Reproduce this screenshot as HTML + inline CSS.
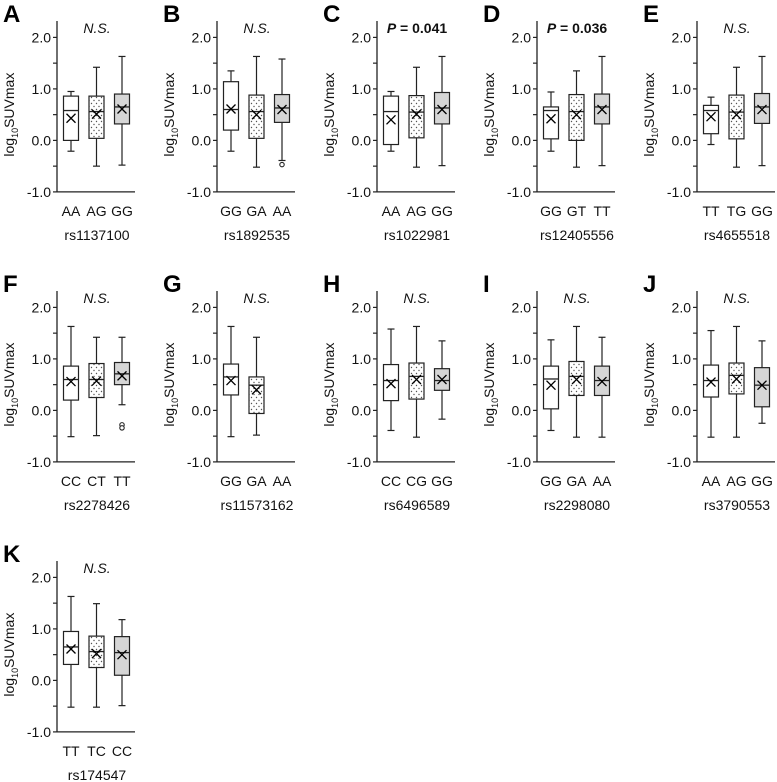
<!DOCTYPE html>
<html><head><meta charset="utf-8">
<style>
html,body{margin:0;padding:0;background:#fff;}
svg{display:block;font-family:"Liberation Sans",Arial,sans-serif;}
</style></head>
<body>
<svg id="fig" width="777" height="782" viewBox="0 0 777 782" xmlns="http://www.w3.org/2000/svg">
<defs>
<pattern id="dots" width="5" height="6" patternUnits="userSpaceOnUse">
<rect width="5" height="6" fill="#fff"/>
<circle cx="1.5" cy="1.5" r="0.7" fill="#555"/>
<circle cx="4" cy="4.5" r="0.7" fill="#555"/>
</pattern>
</defs>
</svg>
<script>
const panelLetters = ["A","B","C","D","E","F","G","H","I","J","K"];
const rsIds = ["rs1137100","rs1892535","rs1022981","rs12405556","rs4655518","rs2278426","rs11573162","rs6496589","rs2298080","rs3790553","rs174547"];
const genotypes = [["AA","AG","GG"],["GG","GA","AA"],["AA","AG","GG"],["GG","GT","TT"],["TT","TG","GG"],["CC","CT","TT"],["GG","GA","AA"],["CC","CG","GG"],["GG","GA","AA"],["AA","AG","GG"],["TT","TC","CC"]];
const pLabels = ["N.S.","N.S.","P = 0.041","P = 0.036","N.S.","N.S.","N.S.","N.S.","N.S.","N.S.","N.S."];
const whiskLo = [[-0.21,-0.50,-0.48],[-0.21,-0.52,-0.39],[-0.21,-0.52,-0.49],[-0.21,-0.52,-0.49],[-0.08,-0.52,-0.49],[-0.51,-0.49,0.11],[-0.51,-0.48,null],[-0.39,-0.52,-0.17],[-0.39,-0.52,-0.52],[-0.52,-0.52,-0.25],[-0.52,-0.52,-0.49]];
const q1 = [[0.00,0.04,0.32],[0.20,0.04,0.35],[-0.08,0.05,0.32],[0.03,0.00,0.32],[0.13,0.03,0.33],[0.20,0.25,0.50],[0.30,-0.06,null],[0.19,0.22,0.39],[0.03,0.29,0.29],[0.26,0.32,0.07],[0.31,0.25,0.10]];
const medians = [[0.58,0.56,0.65],[0.60,0.56,0.63],[0.56,0.55,0.63],[0.58,0.56,0.65],[0.58,0.55,0.65],[0.60,0.60,0.71],[0.65,0.49,null],[0.58,0.66,0.58],[0.61,0.66,0.58],[0.58,0.68,0.49],[0.65,0.56,0.54]];
const q3 = [[0.86,0.86,0.90],[1.14,0.88,0.89],[0.86,0.87,0.93],[0.65,0.89,0.90],[0.68,0.88,0.91],[0.86,0.91,0.93],[0.90,0.65,null],[0.89,0.92,0.81],[0.86,0.95,0.86],[0.88,0.92,0.83],[0.95,0.86,0.85]];
const whiskHi = [[0.95,1.42,1.63],[1.35,1.63,1.58],[0.95,1.42,1.63],[0.94,1.35,1.63],[0.84,1.42,1.63],[1.63,1.42,1.42],[1.63,1.42,null],[1.58,1.63,1.35],[1.37,1.63,1.42],[1.55,1.63,1.35],[1.63,1.49,1.18]];
const means = [[0.43,0.51,0.61],[0.61,0.50,0.60],[0.40,0.51,0.60],[0.42,0.50,0.60],[0.46,0.50,0.60],[0.56,0.57,0.67],[0.58,0.40,null],[0.52,0.60,0.60],[0.49,0.60,0.56],[0.55,0.61,0.49],[0.61,0.52,0.50]];
const outliers = [[[],[],[]],[[],[],[-0.47]],[[],[],[]],[[],[],[]],[[],[],[]],[[],[],[-0.28,-0.34]],[[],[],[]],[[],[],[]],[[],[],[]],[[],[],[]],[[],[],[]]];
const yTicks = [-1.0,-0.5,0.0,0.5,1.0,1.5,2.0];
const yTickLabels = ["-1.0","","0.0","","1.0","","2.0"];

const svg = document.getElementById('fig');
const NS = "http://www.w3.org/2000/svg";
function mk(tag, attrs, parent){
  const e = document.createElementNS(NS, tag);
  for (const k in attrs) e.setAttribute(k, attrs[k]);
  (parent||svg).appendChild(e);
  return e;
}
const fills = ["#fff","url(#dots)","#d6d6d6"];
const stroke = "#222";
panelLetters.forEach((L, p) => {
  const col = p % 5, row = Math.floor(p / 5);
  const x0 = 57 + 160 * col;
  const oy = 270 * row;
  const yScale = v => oy + 140.4 - 51.5 * v;
  const xPos = i => x0 + 14 + 25.5 * i;
  const g = mk('g', {});
  
  

  const letter = mk('text', {x: x0 - 54, y: oy + 22, 'font-size': 24, 'font-weight': 'bold', fill: '#000'}, g);
  letter.textContent = L;
  
  

  const yaxis = mk('line', {x1: x0, x2: x0, y1: oy + 21, y2: yScale(-1), stroke: stroke, 'stroke-width': 1.3}, g);
  
  
  const xaxis = mk('line', {x1: x0, x2: x0 + 78, y1: yScale(-1), y2: yScale(-1), stroke: stroke, 'stroke-width': 1.3}, g);
  
  

  yTicks.forEach((t, i) => {
    const tk = mk('line', {x1: x0 - 4, x2: x0, y1: yScale(t), y2: yScale(t), stroke: stroke, 'stroke-width': 1.2}, g);
    
    
    if (yTickLabels[i]) {
      const tl = mk('text', {x: x0 - 6, y: yScale(t) + 5, 'font-size': 14, 'text-anchor': 'end', fill: '#111'}, g);
      tl.textContent = yTickLabels[i];
      
      
    }
  });

  const cy = yScale(0.5);
  const yt = mk('text', {x: 0, y: 0, 'font-size': 14, 'text-anchor': 'middle', fill: '#111', transform: `translate(${x0 - 43},${cy}) rotate(-90)`}, g);
  yt.innerHTML = 'log<tspan font-size="9" dy="4">10</tspan><tspan dy="-4">SUVmax</tspan>';
  
  

  const isP = pLabels[p].startsWith('P');
  const pl = mk('text', {x: x0 + 40, y: oy + 33, 'font-size': 14, 'text-anchor': 'middle', fill: '#111', 'font-style': isP ? 'normal' : 'italic', 'font-weight': isP ? 'bold' : 'normal'}, g);
  if (isP) pl.innerHTML = '<tspan font-style="italic">P</tspan>' + pLabels[p].slice(1);
  else pl.textContent = pLabels[p];
  
  

  genotypes[p].forEach((gt, i) => {
    const cx = xPos(i);
    const lab = mk('text', {x: cx, y: oy + 216, 'font-size': 14, 'text-anchor': 'middle', fill: '#111'}, g);
    lab.textContent = gt;
    
    
    if (medians[p][i] === null) return;
    const bg = mk('g', {}, g);
    
    
    const w = 15, cw = 7;
    mk('line', {x1: cx, x2: cx, y1: yScale(whiskHi[p][i]), y2: yScale(q3[p][i]), stroke: stroke, 'stroke-width': 1.2}, bg);
    mk('line', {x1: cx, x2: cx, y1: yScale(q1[p][i]), y2: yScale(whiskLo[p][i]), stroke: stroke, 'stroke-width': 1.2}, bg);
    mk('line', {x1: cx - cw/2, x2: cx + cw/2, y1: yScale(whiskHi[p][i]), y2: yScale(whiskHi[p][i]), stroke: stroke, 'stroke-width': 1.2}, bg);
    mk('line', {x1: cx - cw/2, x2: cx + cw/2, y1: yScale(whiskLo[p][i]), y2: yScale(whiskLo[p][i]), stroke: stroke, 'stroke-width': 1.2}, bg);
    mk('rect', {x: cx - w/2, y: yScale(q3[p][i]), width: w, height: yScale(q1[p][i]) - yScale(q3[p][i]), fill: fills[i], stroke: stroke, 'stroke-width': 1.2}, bg);
    mk('line', {x1: cx - w/2, x2: cx + w/2, y1: yScale(medians[p][i]), y2: yScale(medians[p][i]), stroke: stroke, 'stroke-width': 1.3}, bg);
    const my = yScale(means[p][i]), s = 4.5;
    mk('path', {d: `M${cx-s},${my-s}L${cx+s},${my+s}M${cx-s},${my+s}L${cx+s},${my-s}`, stroke: '#000', 'stroke-width': 1.3, fill: 'none'}, bg);
    outliers[p][i].forEach(o => {
      const oc = mk('circle', {cx: cx, cy: yScale(o), r: 2.2, fill: '#fff', stroke: stroke, 'stroke-width': 1.1}, bg);
      
      
    });
  });

  const rs = mk('text', {x: x0 + 40, y: oy + 240, 'font-size': 14, 'text-anchor': 'middle', fill: '#111'}, g);
  rs.textContent = rsIds[p];
  
  
});
</script>
</body></html>
